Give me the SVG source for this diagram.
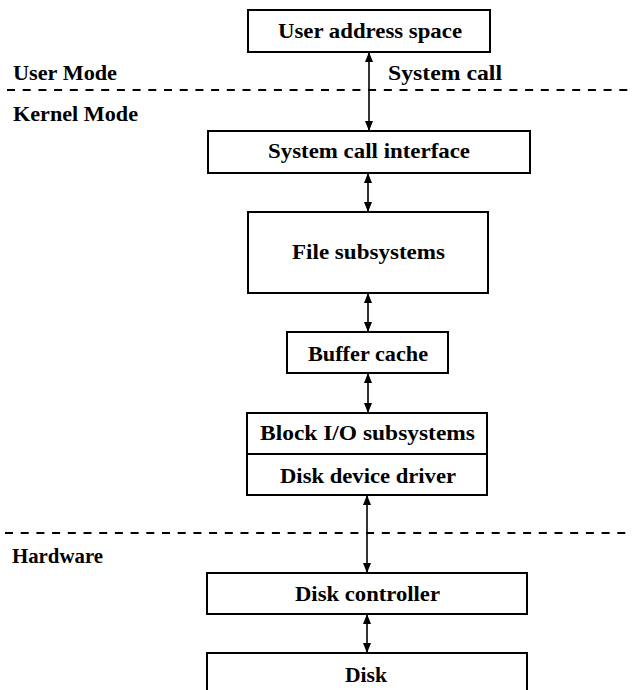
<svg xmlns="http://www.w3.org/2000/svg" width="633" height="690" viewBox="0 0 633 690">
<style>
.box{fill:#fff;stroke:#000;stroke-width:2}
.lbl{font-family:"Liberation Serif","DejaVu Serif",serif;font-size:21px;font-weight:bold;fill:#000}
.dash{stroke:#000;stroke-width:2;stroke-dasharray:8,7.7}
.conn{stroke:#000;stroke-width:1.6;fill:none;marker-start:url(#ah);marker-end:url(#ah)}
</style>
<defs>
<marker id="ah" viewBox="0 0 10 8" refX="10" refY="4" markerWidth="10" markerHeight="8" markerUnits="userSpaceOnUse" orient="auto-start-reverse">
<path d="M0,0 L10,4 L0,8 Z" fill="#000"/>
</marker>
</defs>
<g id="regions">
<line class="dash" x1="7" y1="90" x2="633" y2="90"/>
<line class="dash" x1="5" y1="533" x2="633" y2="533"/>
<text class="lbl" x="13" y="80" textLength="104" lengthAdjust="spacingAndGlyphs">User Mode</text>
<text class="lbl" x="13" y="121" textLength="125" lengthAdjust="spacingAndGlyphs">Kernel Mode</text>
<text class="lbl" x="12" y="563" textLength="91" lengthAdjust="spacingAndGlyphs">Hardware</text>
</g>
<g id="connectors">
<line class="conn" x1="369" y1="52" x2="369" y2="131"/>
<line class="conn" x1="368" y1="173" x2="368" y2="212"/>
<line class="conn" x1="368" y1="293" x2="368" y2="332"/>
<line class="conn" x1="368" y1="373" x2="368" y2="413"/>
<line class="conn" x1="367" y1="495" x2="367" y2="573"/>
<line class="conn" x1="367" y1="614" x2="367" y2="653"/>
<text class="lbl" x="388" y="80" textLength="114" lengthAdjust="spacingAndGlyphs">System call</text>
</g>
<g id="user-address-space">
<rect class="box" x="248" y="10" width="242" height="42"/>
<text class="lbl" x="278" y="38" textLength="184" lengthAdjust="spacingAndGlyphs">User address space</text>
</g>
<g id="system-call-interface">
<rect class="box" x="208" y="131" width="322" height="42"/>
<text class="lbl" x="268" y="158" textLength="202" lengthAdjust="spacingAndGlyphs">System call interface</text>
</g>
<g id="file-subsystems">
<rect class="box" x="248" y="212" width="240" height="81"/>
<text class="lbl" x="292" y="259" textLength="153" lengthAdjust="spacingAndGlyphs">File subsystems</text>
</g>
<g id="buffer-cache">
<rect class="box" x="287" y="332" width="161" height="41"/>
<text class="lbl" x="308" y="361" textLength="120" lengthAdjust="spacingAndGlyphs">Buffer cache</text>
</g>
<g id="block-io">
<rect class="box" x="247" y="413" width="240" height="82"/>
<line stroke="#000" stroke-width="2" x1="247" y1="454" x2="487" y2="454"/>
<text class="lbl" x="260" y="440" textLength="215" lengthAdjust="spacingAndGlyphs">Block I/O subsystems</text>
<text class="lbl" x="280" y="483" textLength="176" lengthAdjust="spacingAndGlyphs">Disk device driver</text>
</g>
<g id="disk-controller">
<rect class="box" x="207" y="573" width="320" height="41"/>
<text class="lbl" x="295" y="601" textLength="145" lengthAdjust="spacingAndGlyphs">Disk controller</text>
</g>
<g id="disk">
<path class="box" d="M207,700 L207,653 L527,653 L527,700"/>
<text class="lbl" x="345" y="682" textLength="42" lengthAdjust="spacingAndGlyphs">Disk</text>
</g>
</svg>
